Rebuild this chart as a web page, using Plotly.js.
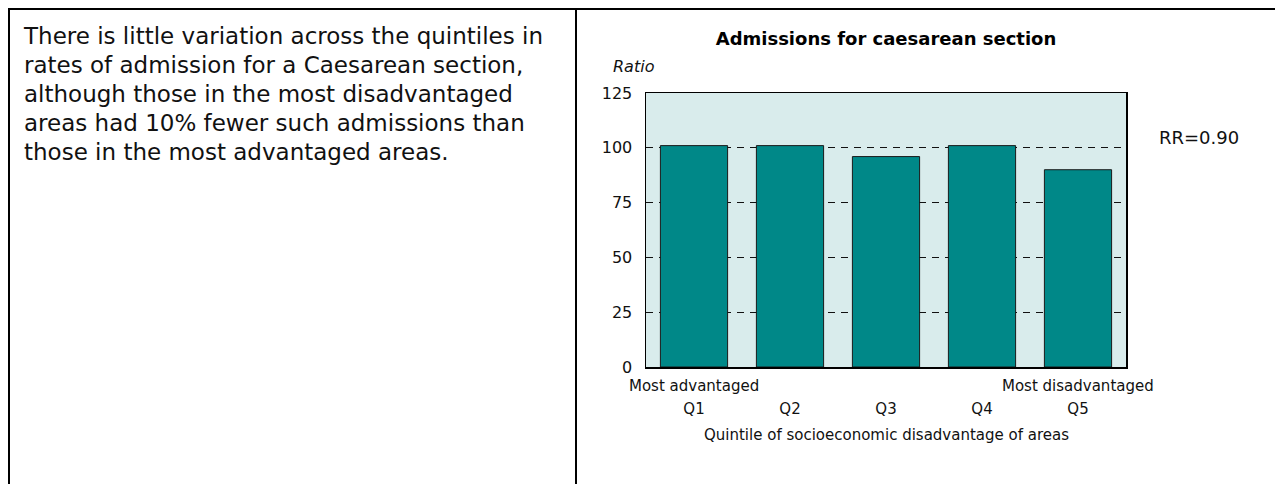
<!DOCTYPE html>
<html><head><meta charset="utf-8">
<script src="https://cdn.plot.ly/plotly-3.0.1.min.js"></script>
<style>
html,body{margin:0;padding:0;background:#fff;}
#wrap{position:relative;width:1275px;height:484px;overflow:hidden;}
.ln{position:absolute;background:#000;}
#para{position:absolute;left:24px;top:22px;font-family:'DejaVu Sans',sans-serif;font-size:23px;letter-spacing:0px;line-height:29px;color:#111;white-space:nowrap;}
#chart{position:absolute;left:0;top:0;width:1275px;height:484px;}
</style></head><body>
<div id="wrap">
<div class="ln" style="left:8px;top:8px;width:1267px;height:2px"></div>
<div class="ln" style="left:8px;top:8px;width:2px;height:476px"></div>
<div class="ln" style="left:575px;top:8px;width:2px;height:476px"></div>
<div id="para">There is little variation across the quintiles in<br>rates of admission for a Caesarean section,<br>although those in the most disadvantaged<br>areas had 10% fewer such admissions than<br>those in the most advantaged areas.</div>
<div id="chart"></div>
</div>
<script>
const categories = ['Q1','Q2','Q3','Q4','Q5'];
const ratios = [101, 101, 96, 101, 90];
const yTicks = [0, 25, 50, 75, 100, 125];
const yTickLabels = ['0','25','50','75','100','125'];
const chartTitle = 'Admissions for caesarean section';
const xTitle = 'Quintile of socioeconomic disadvantage of areas';
const yTitle = 'Ratio';
const leftLabel = 'Most advantaged';
const rightLabel = 'Most disadvantaged';
const rrLabel = 'RR=0.90';

const FONT = 'DejaVu Sans, sans-serif';
const W = 1275, H = 484;
const L = 646, R = 1126, T = 93, B = 367;
const px2x = p => (p - L) / (R - L);
const px2y = p => (B - p) / (B - T);

const trace = {
  type: 'bar', x: categories, y: ratios, width: 0.7,
  marker: {color: '#008888', line: {color: '#1a1a1a', width: 1}},
  hoverinfo: 'x+y'
};

const layout = {
  width: W, height: H,
  margin: {l: L, r: W - R, t: T, b: H - B, pad: 0},
  paper_bgcolor: 'rgba(0,0,0,0)',
  plot_bgcolor: '#d9ecec',
  showlegend: false,
  font: {family: FONT, size: 15, color: '#111'},
  title: {text: chartTitle, font: {family: FONT, size: 18, weight: 'bold', color: '#000'},
          x: 886 / W, xanchor: 'center', y: 1 - 39 / H, yanchor: 'middle', xref: 'container', yref: 'container'},
  xaxis: {
    type: 'category', range: [-0.5, 4.5], fixedrange: true,
    showline: true, mirror: true, linecolor: '#000', linewidth: 1.5,
    showgrid: false, zeroline: false, ticks: '',
    tickfont: {family: FONT, size: 15, color: '#111'},
    ticklabelstandoff: 27
  },
  yaxis: {
    range: [0, 125], fixedrange: true,
    tickvals: yTicks, ticktext: yTickLabels,
    showline: true, mirror: true, linecolor: '#000', linewidth: 1.5,
    showgrid: true, gridcolor: '#111', gridwidth: 1.3, griddash: '7px,6px',
    zeroline: false, ticks: '',
    tickfont: {family: FONT, size: 16, color: '#111'},
    ticklabelstandoff: 9
  },
  annotations: [
    {text: '<i>' + yTitle + '</i>', xref: 'paper', yref: 'paper', x: px2x(611), y: px2y(66),
     xanchor: 'left', yanchor: 'middle', showarrow: false, font: {family: FONT, size: 16, color: '#111'}},
    {text: leftLabel, xref: 'x', yref: 'paper', x: categories[0], y: px2y(386),
     xanchor: 'center', yanchor: 'middle', showarrow: false, font: {family: FONT, size: 15, color: '#111'}},
    {text: rightLabel, xref: 'x', yref: 'paper', x: categories[4], y: px2y(386),
     xanchor: 'center', yanchor: 'middle', showarrow: false, font: {family: FONT, size: 15, color: '#111'}},
    {text: xTitle, xref: 'paper', yref: 'paper', x: 0.5, y: px2y(435),
     xanchor: 'center', yanchor: 'middle', showarrow: false, font: {family: FONT, size: 15, color: '#111'}},
    {text: rrLabel, xref: 'paper', yref: 'paper', x: px2x(1157), y: px2y(137),
     xanchor: 'left', yanchor: 'middle', showarrow: false, font: {family: FONT, size: 18, color: '#111'}}
  ]
};

Plotly.newPlot('chart', [trace], layout, {displayModeBar: false, staticPlot: true});
</script>
</body></html>
